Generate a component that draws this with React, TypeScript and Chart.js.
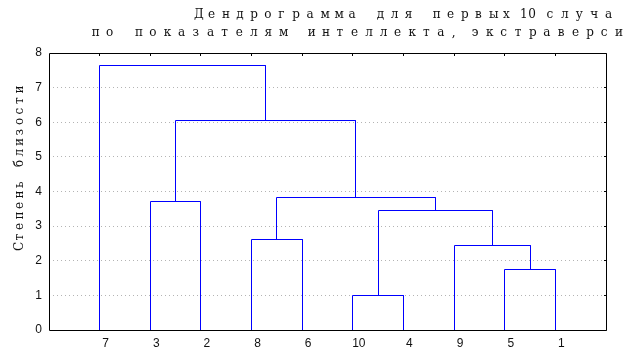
import { useEffect, useRef } from 'react';
import { Chart, registerables } from 'chart.js';

Chart.register(...registerables);

// Leaves in dendrogram order (left to right)
const leafLabels = ['7', '3', '2', '8', '6', '10', '4', '9', '5', '1'];
// Merge steps: node ids are leaf labels or 'M<i>' for the i-th merge
const mergeLeft = ['10', '5', '9', '8', 'M0', '3', 'M3', 'M5', '7'];
const mergeRight = ['4', '1', 'M1', '6', 'M2', '2', 'M4', 'M6', 'M7'];
const mergeHeights = [1.0, 1.75, 2.45, 2.6, 3.46, 3.7, 3.84, 6.06, 7.65];
const yTickValues = [0, 1, 2, 3, 4, 5, 6, 7, 8];

const titleLine1 = [
  { text: 'Дендрограмма для первых', x: 194, adv: 14.05 },
  { text: '10', x: 520, adv: 8.3 },
  { text: 'случа', x: 546.5, adv: 14.6 },
];
const titleLine2 = [
  { text: 'по показателям интеллекта,', x: 91.7, adv: 14.4 },
  { text: 'экстраверси', x: 471.7, adv: 14.33 },
];
const yTitle = 'Степень близости';

function buildLinks() {
  const nodes: Record<string, { x: number; h: number }> = {};
  leafLabels.forEach((l, i) => {
    nodes[l] = { x: i + 1, h: 0 };
  });
  return mergeHeights.map((h, i) => {
    const a = nodes[mergeLeft[i]];
    const b = nodes[mergeRight[i]];
    nodes['M' + i] = { x: (a.x + b.x) / 2, h };
    return [
      { x: a.x, y: a.h },
      { x: a.x, y: h },
      { x: b.x, y: h },
      { x: b.x, y: b.h },
    ];
  });
}

const textFont = '12px "DejaVu Serif"';
const tickFont = { family: '"Liberation Sans", Arial, sans-serif', size: 12 };

const snapPlugin = {
  id: 'snap',
  beforeDatasetsDraw(chart: any) {
    chart.data.datasets.forEach((_: any, i: number) => {
      const meta = chart.getDatasetMeta(i);
      meta.data.forEach((el: any) => {
        el.x = Math.floor(el.x) + 0.5;
        el.y = Math.floor(el.y) + 0.5;
      });
    });
  },
};

const decorPlugin = {
  id: 'decor',
  afterDraw(chart: any) {
    const ctx = chart.ctx as CanvasRenderingContext2D;
    const { left, right, top, bottom } = chart.chartArea;
    const xs = chart.scales.x;
    const ys = chart.scales.y;
    ctx.save();
    // frame
    ctx.strokeStyle = '#000';
    ctx.lineWidth = 1;
    const L = Math.round(left) + 0.5;
    const R = Math.round(right) + 0.5;
    const T = Math.round(top) + 0.5;
    const B = Math.round(bottom) + 0.5;
    ctx.beginPath();
    ctx.rect(L, T, R - L, B - T);
    ctx.stroke();
    // inward ticks on top and right
    ctx.beginPath();
    leafLabels.forEach((_, i) => {
      const px = Math.floor(xs.getPixelForValue(i + 1)) + 0.5;
      ctx.moveTo(px, T);
      ctx.lineTo(px, T + 2.5);
    });
    yTickValues.forEach((v) => {
      const py = Math.floor(ys.getPixelForValue(v)) + 0.5;
      ctx.moveTo(R, py);
      ctx.lineTo(R - 2.5, py);
    });
    ctx.stroke();

    // titles
    ctx.fillStyle = '#111';
    ctx.font = textFont;
    ctx.textAlign = 'left';
    ctx.textBaseline = 'alphabetic';
    const drawLine = (segs: { text: string; x: number; adv: number }[], y: number) => {
      segs.forEach((s) => {
        Array.from(s.text).forEach((ch, i) => {
          ctx.fillText(ch, s.x + i * s.adv, y);
        });
      });
    };
    drawLine(titleLine1, 18);
    drawLine(titleLine2, 35.5);

    // y title (rotated)
    ctx.save();
    ctx.translate(23, 251);
    ctx.rotate(-Math.PI / 2);
    Array.from(yTitle).forEach((ch, i) => {
      ctx.fillText(ch, i * 10.5, 0);
    });
    ctx.restore();
    ctx.restore();
  },
};

export default function App() {
  const ref = useRef<HTMLCanvasElement | null>(null);
  useEffect(() => {
    if (!ref.current) return;
    const links = buildLinks();
    const chart = new Chart(ref.current, {
      type: 'scatter',
      data: {
        datasets: links.map((pts) => ({
          data: pts,
          showLine: true,
          borderColor: '#0000ff',
          backgroundColor: '#0000ff',
          borderWidth: 1,
          pointRadius: 0,
          pointHoverRadius: 0,
          fill: false,
          tension: 0,
        })),
      },
      options: {
        animation: false,
        responsive: false,
        maintainAspectRatio: false,
        events: [],
        layout: { padding: { top: 53, right: 19, left: 0, bottom: 0 } },
        plugins: {
          legend: { display: false },
          tooltip: { enabled: false },
          title: { display: false },
        },
        scales: {
          x: {
            type: 'linear',
            min: 0,
            max: leafLabels.length + 1,
            afterBuildTicks: (s: any) => {
              s.ticks = leafLabels.map((_, i) => ({ value: i + 1 }));
            },
            afterFit: (s: any) => {
              s.height = 30;
            },
            ticks: {
              callback: (v: any) => leafLabels[Number(v) - 1] ?? '',
              autoSkip: false,
              maxRotation: 0,
              minRotation: 0,
              padding: 6,
              labelOffset: 6,
              font: tickFont,
              color: '#111',
            },
            grid: { display: false, drawTicks: false },
            border: { display: false },
          },
          y: {
            type: 'linear',
            min: 0,
            max: 8,
            afterBuildTicks: (s: any) => {
              s.ticks = yTickValues.map((v) => ({ value: v }));
            },
            afterFit: (s: any) => {
              s.width = 49;
            },
            ticks: {
              padding: 7,
              font: tickFont,
              color: '#111',
            },
            grid: {
              drawTicks: false,
              lineWidth: 1,
              color: (c: any) =>
                c.tick && (c.tick.value === 0 || c.tick.value === 8) ? 'rgba(0,0,0,0)' : '#b4b4b4',
            },
            border: { display: false, dash: [1, 3] },
          },
        },
      },
      plugins: [snapPlugin, decorPlugin],
    });
    return () => chart.destroy();
  }, []);
  return (
    <div style={{ position: 'absolute', left: 0, top: 0, width: 625, height: 360, background: '#fff' }}>
      <canvas ref={ref} width={625} height={360} style={{ width: 625, height: 360, display: 'block' }} />
    </div>
  );
}
